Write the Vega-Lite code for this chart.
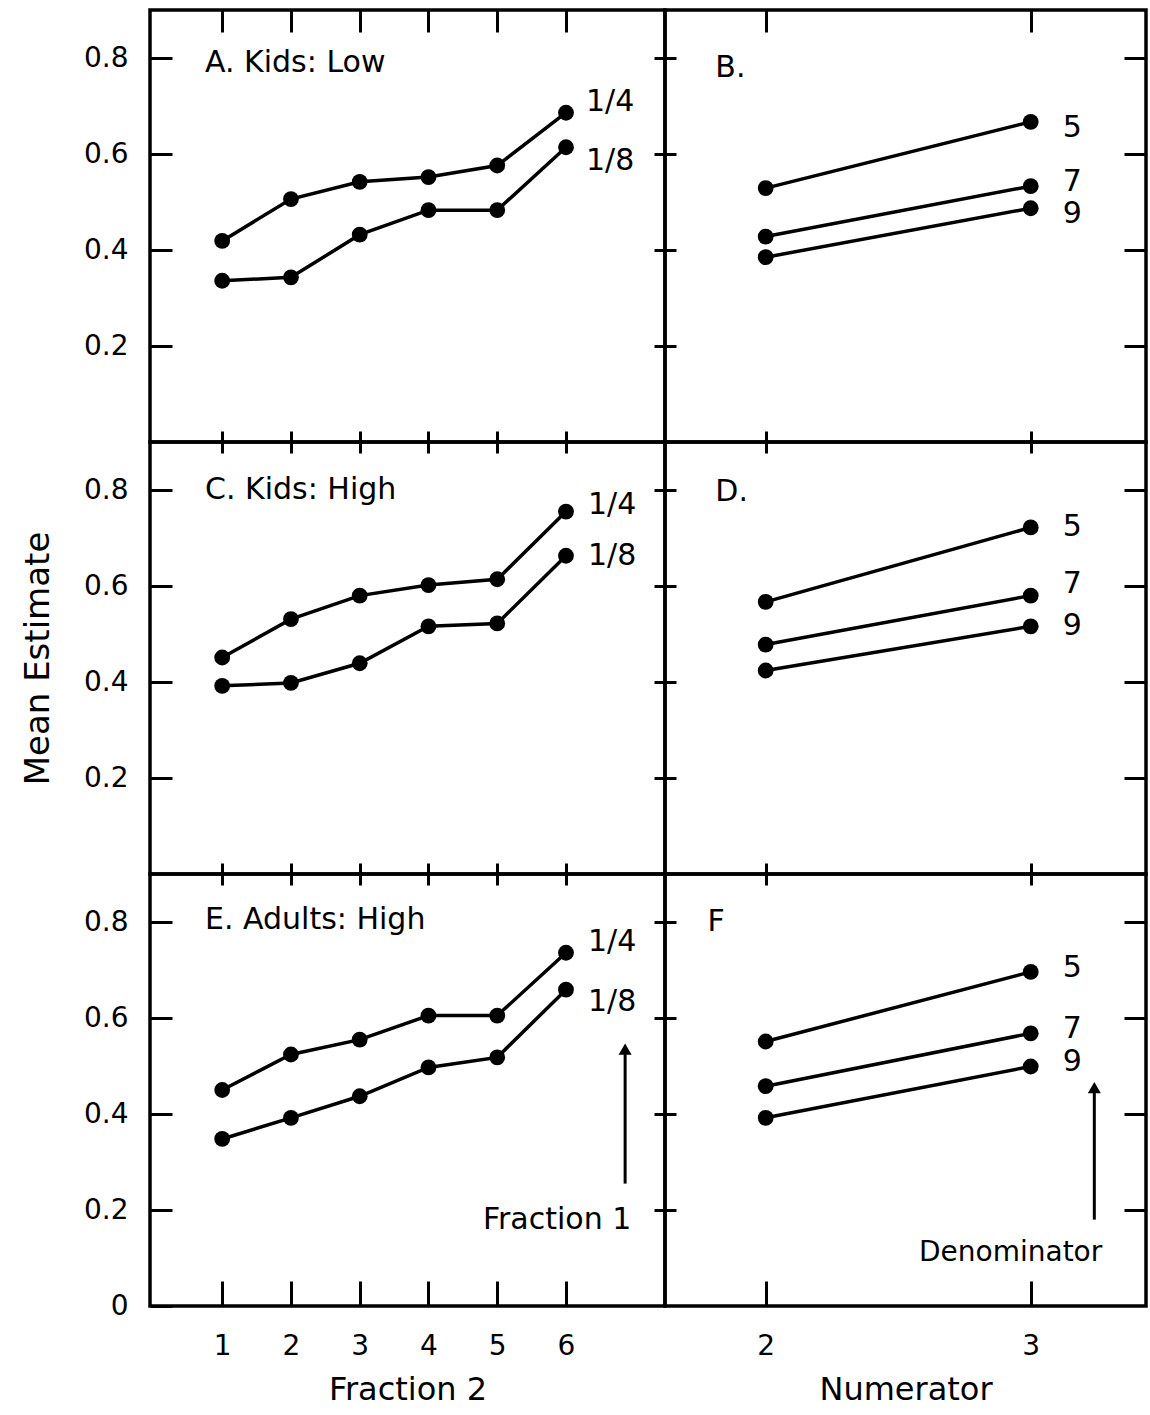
{
  "$schema": "https://vega.github.io/schema/vega-lite/v6.json",
  "autosize": {"type": "pad"},
  "padding": {"left": 19, "top": 6, "right": 2, "bottom": 4},
  "columns": 2,
  "spacing": 0,
  "bounds": "flush",
  "align": "each",
  "config": {
    "view": {"stroke": "black", "strokeWidth": 3.5},
    "font": "DejaVu Sans",
    "concat": {"spacing": 0},
    "axis": {"grid": false, "domain": false, "tickColor": "black", "tickWidth": 3, "labelColor": "black", "labelFont": "DejaVu Sans", "labelFontSize": 28, "titleFont": "DejaVu Sans", "titleFontSize": 32, "titleFontWeight": "normal", "titleColor": "black"},
    "text": {"font": "DejaVu Sans", "color": "black"}
  },
  "datasets": {
    "pts": [
      {"panel": "A", "series": "1/4", "x": 1, "y": 0.419},
      {"panel": "A", "series": "1/4", "x": 2, "y": 0.506},
      {"panel": "A", "series": "1/4", "x": 3, "y": 0.542},
      {"panel": "A", "series": "1/4", "x": 4, "y": 0.552},
      {"panel": "A", "series": "1/4", "x": 5, "y": 0.576},
      {"panel": "A", "series": "1/4", "x": 6, "y": 0.686},
      {"panel": "A", "series": "1/8", "x": 1, "y": 0.336},
      {"panel": "A", "series": "1/8", "x": 2, "y": 0.343},
      {"panel": "A", "series": "1/8", "x": 3, "y": 0.432},
      {"panel": "A", "series": "1/8", "x": 4, "y": 0.483},
      {"panel": "A", "series": "1/8", "x": 5, "y": 0.483},
      {"panel": "A", "series": "1/8", "x": 6, "y": 0.614},
      {"panel": "B", "series": "5", "x": 2, "y": 0.529},
      {"panel": "B", "series": "5", "x": 3, "y": 0.667},
      {"panel": "B", "series": "7", "x": 2, "y": 0.428},
      {"panel": "B", "series": "7", "x": 3, "y": 0.533},
      {"panel": "B", "series": "9", "x": 2, "y": 0.385},
      {"panel": "B", "series": "9", "x": 3, "y": 0.487},
      {"panel": "C", "series": "1/4", "x": 1, "y": 0.451},
      {"panel": "C", "series": "1/4", "x": 2, "y": 0.531},
      {"panel": "C", "series": "1/4", "x": 3, "y": 0.580},
      {"panel": "C", "series": "1/4", "x": 4, "y": 0.602},
      {"panel": "C", "series": "1/4", "x": 5, "y": 0.614},
      {"panel": "C", "series": "1/4", "x": 6, "y": 0.755},
      {"panel": "C", "series": "1/8", "x": 1, "y": 0.392},
      {"panel": "C", "series": "1/8", "x": 2, "y": 0.398},
      {"panel": "C", "series": "1/8", "x": 3, "y": 0.439},
      {"panel": "C", "series": "1/8", "x": 4, "y": 0.516},
      {"panel": "C", "series": "1/8", "x": 5, "y": 0.522},
      {"panel": "C", "series": "1/8", "x": 6, "y": 0.663},
      {"panel": "D", "series": "5", "x": 2, "y": 0.567},
      {"panel": "D", "series": "5", "x": 3, "y": 0.722},
      {"panel": "D", "series": "7", "x": 2, "y": 0.478},
      {"panel": "D", "series": "7", "x": 3, "y": 0.580},
      {"panel": "D", "series": "9", "x": 2, "y": 0.424},
      {"panel": "D", "series": "9", "x": 3, "y": 0.516},
      {"panel": "E", "series": "1/4", "x": 1, "y": 0.450},
      {"panel": "E", "series": "1/4", "x": 2, "y": 0.524},
      {"panel": "E", "series": "1/4", "x": 3, "y": 0.555},
      {"panel": "E", "series": "1/4", "x": 4, "y": 0.605},
      {"panel": "E", "series": "1/4", "x": 5, "y": 0.605},
      {"panel": "E", "series": "1/4", "x": 6, "y": 0.736},
      {"panel": "E", "series": "1/8", "x": 1, "y": 0.348},
      {"panel": "E", "series": "1/8", "x": 2, "y": 0.392},
      {"panel": "E", "series": "1/8", "x": 3, "y": 0.437},
      {"panel": "E", "series": "1/8", "x": 4, "y": 0.497},
      {"panel": "E", "series": "1/8", "x": 5, "y": 0.518},
      {"panel": "E", "series": "1/8", "x": 6, "y": 0.659},
      {"panel": "F", "series": "5", "x": 2, "y": 0.551},
      {"panel": "F", "series": "5", "x": 3, "y": 0.696},
      {"panel": "F", "series": "7", "x": 2, "y": 0.458},
      {"panel": "F", "series": "7", "x": 3, "y": 0.568},
      {"panel": "F", "series": "9", "x": 2, "y": 0.392},
      {"panel": "F", "series": "9", "x": 3, "y": 0.499}
    ]
  },
  "concat": [
        {
          "width": 515, "height": 432,
          "resolve": {"axis": {"x": "independent", "y": "independent"}},
          "layer": [
            {"data": {"name": "pts"}, "transform": [{"filter": "datum.panel == 'A'"}],
             "mark": {"type": "line", "color": "black", "strokeWidth": 3.5},
             "encoding": {
               "x": {"field": "x", "type": "quantitative", "scale": {"domain": [-0.05, 7.44], "nice": false, "zero": false}, "axis": {"orient": "top", "values": [1, 2, 3, 4, 5, 6], "offset": -22, "tickSize": 22, "labels": false, "title": null}},
               "y": {"field": "y", "type": "quantitative", "scale": {"domain": [0, 0.9], "nice": false, "zero": false}, "axis": {"orient": "left", "values": [0.2, 0.4, 0.6, 0.8], "offset": -22, "tickSize": 22, "labelPadding": 22, "format": ".1f", "title": null}},
               "detail": {"field": "series"}}},
            {"data": {"name": "pts"}, "transform": [{"filter": "datum.panel == 'A'"}],
             "mark": {"type": "point", "filled": true, "color": "black", "size": 250, "opacity": 1},
             "encoding": {
               "x": {"field": "x", "type": "quantitative", "axis": {"orient": "bottom", "values": [1, 2, 3, 4, 5, 6], "offset": -11, "tickSize": 11, "labels": false, "title": null}},
               "y": {"field": "y", "type": "quantitative", "axis": {"orient": "right", "values": [0.2, 0.4, 0.6, 0.8], "offset": -11, "tickSize": 11, "labels": false, "title": null}}}},
            {"data": {"name": "pts"}, "transform": [{"filter": "datum.panel == 'A' && datum.x == 6 && datum.series == '1/4'"}],
             "mark": {"type": "text", "align": "left", "baseline": "middle", "dx": 20, "dy": -11, "fontSize": 30},
             "encoding": {"x": {"field": "x", "type": "quantitative", "axis": null}, "y": {"field": "y", "type": "quantitative", "axis": null}, "text": {"field": "series"}}},
            {"data": {"name": "pts"}, "transform": [{"filter": "datum.panel == 'A' && datum.x == 6 && datum.series == '1/8'"}],
             "mark": {"type": "text", "align": "left", "baseline": "middle", "dx": 20, "dy": 14, "fontSize": 30},
             "encoding": {"x": {"field": "x", "type": "quantitative", "axis": null}, "y": {"field": "y", "type": "quantitative", "axis": null}, "text": {"field": "series"}}},
            {"data": {"values": [{"label": "A. Kids: Low"}]},
             "mark": {"type": "text", "align": "left", "baseline": "middle", "fontSize": 30},
             "encoding": {"x": {"datum": 0.75, "type": "quantitative", "axis": null}, "y": {"datum": 0.79, "type": "quantitative", "axis": null}, "text": {"field": "label"}}}
          ]
        },
        {
          "width": 481, "height": 432,
          "resolve": {"axis": {"x": "independent", "y": "independent"}},
          "layer": [
            {"data": {"name": "pts"}, "transform": [{"filter": "datum.panel == 'B'"}],
             "mark": {"type": "line", "color": "black", "strokeWidth": 3.5},
             "encoding": {
               "x": {"field": "x", "type": "quantitative", "scale": {"domain": [1.62, 3.435], "nice": false, "zero": false}, "axis": {"orient": "top", "values": [2, 3], "offset": -22, "tickSize": 22, "labels": false, "title": null}},
               "y": {"field": "y", "type": "quantitative", "scale": {"domain": [0, 0.9], "nice": false, "zero": false}, "axis": {"orient": "left", "values": [0.2, 0.4, 0.6, 0.8], "offset": -11, "tickSize": 11, "labels": false, "title": null}},
               "detail": {"field": "series"}}},
            {"data": {"name": "pts"}, "transform": [{"filter": "datum.panel == 'B'"}],
             "mark": {"type": "point", "filled": true, "color": "black", "size": 250, "opacity": 1},
             "encoding": {
               "x": {"field": "x", "type": "quantitative", "axis": {"orient": "bottom", "values": [2, 3], "offset": -11, "tickSize": 11, "labels": false, "title": null}},
               "y": {"field": "y", "type": "quantitative", "axis": {"orient": "right", "values": [0.2, 0.4, 0.6, 0.8], "offset": -22, "tickSize": 22, "labels": false, "title": null}}}},
            {"data": {"name": "pts"}, "transform": [{"filter": "datum.panel == 'B' && datum.x == 3 && datum.series != '7'"}],
             "mark": {"type": "text", "align": "left", "baseline": "middle", "dx": 32, "dy": 6, "fontSize": 30},
             "encoding": {"x": {"field": "x", "type": "quantitative", "axis": null}, "y": {"field": "y", "type": "quantitative", "axis": null}, "text": {"field": "series"}}},
            {"data": {"name": "pts"}, "transform": [{"filter": "datum.panel == 'B' && datum.x == 3 && datum.series == '7'"}],
             "mark": {"type": "text", "align": "left", "baseline": "middle", "dx": 32, "dy": -4, "fontSize": 30},
             "encoding": {"x": {"field": "x", "type": "quantitative", "axis": null}, "y": {"field": "y", "type": "quantitative", "axis": null}, "text": {"field": "series"}}},
            {"data": {"values": [{"label": "B."}]},
             "mark": {"type": "text", "align": "left", "baseline": "middle", "fontSize": 30},
             "encoding": {"x": {"datum": 1.81, "type": "quantitative", "axis": null}, "y": {"datum": 0.78, "type": "quantitative", "axis": null}, "text": {"field": "label"}}}
          ]
        },
        {
          "width": 515, "height": 432,
          "resolve": {"axis": {"x": "independent", "y": "independent"}},
          "layer": [
            {"data": {"name": "pts"}, "transform": [{"filter": "datum.panel == 'C'"}],
             "mark": {"type": "line", "color": "black", "strokeWidth": 3.5},
             "encoding": {
               "x": {"field": "x", "type": "quantitative", "scale": {"domain": [-0.05, 7.44], "nice": false, "zero": false}, "axis": {"orient": "top", "values": [1, 2, 3, 4, 5, 6], "offset": -11, "tickSize": 11, "labels": false, "title": null}},
               "y": {"field": "y", "type": "quantitative", "scale": {"domain": [0, 0.9], "nice": false, "zero": false}, "axis": {"orient": "left", "values": [0.2, 0.4, 0.6, 0.8], "offset": -22, "tickSize": 22, "labelPadding": 22, "format": ".1f", "title": "Mean  Estimate", "titlePadding": 28, "titleFontSize": 34}},
               "detail": {"field": "series"}}},
            {"data": {"name": "pts"}, "transform": [{"filter": "datum.panel == 'C'"}],
             "mark": {"type": "point", "filled": true, "color": "black", "size": 250, "opacity": 1},
             "encoding": {
               "x": {"field": "x", "type": "quantitative", "axis": {"orient": "bottom", "values": [1, 2, 3, 4, 5, 6], "offset": -11, "tickSize": 11, "labels": false, "title": null}},
               "y": {"field": "y", "type": "quantitative", "axis": {"orient": "right", "values": [0.2, 0.4, 0.6, 0.8], "offset": -11, "tickSize": 11, "labels": false, "title": null}}}},
            {"data": {"name": "pts"}, "transform": [{"filter": "datum.panel == 'C' && datum.x == 6 && datum.series == '1/4'"}],
             "mark": {"type": "text", "align": "left", "baseline": "middle", "dx": 22, "dy": -7, "fontSize": 30},
             "encoding": {"x": {"field": "x", "type": "quantitative", "axis": null}, "y": {"field": "y", "type": "quantitative", "axis": null}, "text": {"field": "series"}}},
            {"data": {"name": "pts"}, "transform": [{"filter": "datum.panel == 'C' && datum.x == 6 && datum.series == '1/8'"}],
             "mark": {"type": "text", "align": "left", "baseline": "middle", "dx": 22, "dy": 0, "fontSize": 30},
             "encoding": {"x": {"field": "x", "type": "quantitative", "axis": null}, "y": {"field": "y", "type": "quantitative", "axis": null}, "text": {"field": "series"}}},
            {"data": {"values": [{"label": "C. Kids: High"}]},
             "mark": {"type": "text", "align": "left", "baseline": "middle", "fontSize": 30},
             "encoding": {"x": {"datum": 0.75, "type": "quantitative", "axis": null}, "y": {"datum": 0.80, "type": "quantitative", "axis": null}, "text": {"field": "label"}}}
          ]
        },
        {
          "width": 481, "height": 432,
          "resolve": {"axis": {"x": "independent", "y": "independent"}},
          "layer": [
            {"data": {"name": "pts"}, "transform": [{"filter": "datum.panel == 'D'"}],
             "mark": {"type": "line", "color": "black", "strokeWidth": 3.5},
             "encoding": {
               "x": {"field": "x", "type": "quantitative", "scale": {"domain": [1.62, 3.435], "nice": false, "zero": false}, "axis": {"orient": "top", "values": [2, 3], "offset": -11, "tickSize": 11, "labels": false, "title": null}},
               "y": {"field": "y", "type": "quantitative", "scale": {"domain": [0, 0.9], "nice": false, "zero": false}, "axis": {"orient": "left", "values": [0.2, 0.4, 0.6, 0.8], "offset": -11, "tickSize": 11, "labels": false, "title": null}},
               "detail": {"field": "series"}}},
            {"data": {"name": "pts"}, "transform": [{"filter": "datum.panel == 'D'"}],
             "mark": {"type": "point", "filled": true, "color": "black", "size": 250, "opacity": 1},
             "encoding": {
               "x": {"field": "x", "type": "quantitative", "axis": {"orient": "bottom", "values": [2, 3], "offset": -11, "tickSize": 11, "labels": false, "title": null}},
               "y": {"field": "y", "type": "quantitative", "axis": {"orient": "right", "values": [0.2, 0.4, 0.6, 0.8], "offset": -22, "tickSize": 22, "labels": false, "title": null}}}},
            {"data": {"name": "pts"}, "transform": [{"filter": "datum.panel == 'D' && datum.x == 3 && datum.series != '7'"}],
             "mark": {"type": "text", "align": "left", "baseline": "middle", "dx": 32, "dy": 0, "fontSize": 30},
             "encoding": {"x": {"field": "x", "type": "quantitative", "axis": null}, "y": {"field": "y", "type": "quantitative", "axis": null}, "text": {"field": "series"}}},
            {"data": {"name": "pts"}, "transform": [{"filter": "datum.panel == 'D' && datum.x == 3 && datum.series == '7'"}],
             "mark": {"type": "text", "align": "left", "baseline": "middle", "dx": 32, "dy": -12, "fontSize": 30},
             "encoding": {"x": {"field": "x", "type": "quantitative", "axis": null}, "y": {"field": "y", "type": "quantitative", "axis": null}, "text": {"field": "series"}}},
            {"data": {"values": [{"label": "D."}]},
             "mark": {"type": "text", "align": "left", "baseline": "middle", "fontSize": 30},
             "encoding": {"x": {"datum": 1.81, "type": "quantitative", "axis": null}, "y": {"datum": 0.795, "type": "quantitative", "axis": null}, "text": {"field": "label"}}}
          ]
        },
        {
          "width": 515, "height": 432,
          "resolve": {"axis": {"x": "independent", "y": "independent"}},
          "layer": [
            {"data": {"name": "pts"}, "transform": [{"filter": "datum.panel == 'E'"}],
             "mark": {"type": "line", "color": "black", "strokeWidth": 3.5},
             "encoding": {
               "x": {"field": "x", "type": "quantitative", "scale": {"domain": [-0.05, 7.44], "nice": false, "zero": false}, "axis": {"orient": "top", "values": [1, 2, 3, 4, 5, 6], "offset": -11, "tickSize": 11, "labels": false, "title": null}},
               "y": {"field": "y", "type": "quantitative", "scale": {"domain": [0, 0.9], "nice": false, "zero": false}, "axis": {"orient": "left", "values": [0, 0.2, 0.4, 0.6, 0.8], "offset": -22, "tickSize": 22, "labelPadding": 22, "labelExpr": "datum.value == 0 ? '0' : format(datum.value, '.1f')", "title": null}},
               "detail": {"field": "series"}}},
            {"data": {"name": "pts"}, "transform": [{"filter": "datum.panel == 'E'"}],
             "mark": {"type": "point", "filled": true, "color": "black", "size": 250, "opacity": 1},
             "encoding": {
               "x": {"field": "x", "type": "quantitative", "axis": {"orient": "bottom", "values": [1, 2, 3, 4, 5, 6], "offset": -25, "tickSize": 25, "labelPadding": 26, "format": "d", "title": "Fraction  2", "titlePadding": 14}},
               "y": {"field": "y", "type": "quantitative", "axis": {"orient": "right", "values": [0.2, 0.4, 0.6, 0.8], "offset": -11, "tickSize": 11, "labels": false, "title": null}}}},
            {"data": {"name": "pts"}, "transform": [{"filter": "datum.panel == 'E' && datum.x == 6 && datum.series == '1/4'"}],
             "mark": {"type": "text", "align": "left", "baseline": "middle", "dx": 22, "dy": -11, "fontSize": 30},
             "encoding": {"x": {"field": "x", "type": "quantitative", "axis": null}, "y": {"field": "y", "type": "quantitative", "axis": null}, "text": {"field": "series"}}},
            {"data": {"name": "pts"}, "transform": [{"filter": "datum.panel == 'E' && datum.x == 6 && datum.series == '1/8'"}],
             "mark": {"type": "text", "align": "left", "baseline": "middle", "dx": 22, "dy": 12, "fontSize": 30},
             "encoding": {"x": {"field": "x", "type": "quantitative", "axis": null}, "y": {"field": "y", "type": "quantitative", "axis": null}, "text": {"field": "series"}}},
            {"data": {"values": [{"label": "E. Adults: High"}]},
             "mark": {"type": "text", "align": "left", "baseline": "middle", "fontSize": 30},
             "encoding": {"x": {"datum": 0.75, "type": "quantitative", "axis": null}, "y": {"datum": 0.805, "type": "quantitative", "axis": null}, "text": {"field": "label"}}},
            {"data": {"values": [{"label": "Fraction 1"}]},
             "mark": {"type": "rule", "color": "black", "strokeWidth": 3},
             "encoding": {"x": {"datum": 6.86, "type": "quantitative", "axis": null}, "y": {"datum": 0.255, "type": "quantitative", "axis": null}, "y2": {"datum": 0.53}}},
            {"data": {"values": [{"label": "Fraction 1"}]},
             "mark": {"type": "point", "shape": "triangle-up", "filled": true, "color": "black", "size": 170, "opacity": 1},
             "encoding": {"x": {"datum": 6.86, "type": "quantitative", "axis": null}, "y": {"datum": 0.535, "type": "quantitative", "axis": null}}},
            {"data": {"values": [{"label": "Fraction 1"}]},
             "mark": {"type": "text", "align": "right", "baseline": "middle", "fontSize": 30},
             "encoding": {"x": {"datum": 6.95, "type": "quantitative", "axis": null}, "y": {"datum": 0.18, "type": "quantitative", "axis": null}, "text": {"field": "label"}}}
          ]
        },
        {
          "width": 481, "height": 432,
          "resolve": {"axis": {"x": "independent", "y": "independent"}},
          "layer": [
            {"data": {"name": "pts"}, "transform": [{"filter": "datum.panel == 'F'"}],
             "mark": {"type": "line", "color": "black", "strokeWidth": 3.5},
             "encoding": {
               "x": {"field": "x", "type": "quantitative", "scale": {"domain": [1.62, 3.435], "nice": false, "zero": false}, "axis": {"orient": "top", "values": [2, 3], "offset": -11, "tickSize": 11, "labels": false, "title": null}},
               "y": {"field": "y", "type": "quantitative", "scale": {"domain": [0, 0.9], "nice": false, "zero": false}, "axis": {"orient": "left", "values": [0.2, 0.4, 0.6, 0.8], "offset": -11, "tickSize": 11, "labels": false, "title": null}},
               "detail": {"field": "series"}}},
            {"data": {"name": "pts"}, "transform": [{"filter": "datum.panel == 'F'"}],
             "mark": {"type": "point", "filled": true, "color": "black", "size": 250, "opacity": 1},
             "encoding": {
               "x": {"field": "x", "type": "quantitative", "axis": {"orient": "bottom", "values": [2, 3], "offset": -25, "tickSize": 25, "labelPadding": 26, "format": "d", "title": "Numerator", "titlePadding": 14}},
               "y": {"field": "y", "type": "quantitative", "axis": {"orient": "right", "values": [0.2, 0.4, 0.6, 0.8], "offset": -22, "tickSize": 22, "labels": false, "title": null}}}},
            {"data": {"name": "pts"}, "transform": [{"filter": "datum.panel == 'F' && datum.x == 3"}],
             "mark": {"type": "text", "align": "left", "baseline": "middle", "dx": 32, "dy": -4, "fontSize": 30},
             "encoding": {"x": {"field": "x", "type": "quantitative", "axis": null}, "y": {"field": "y", "type": "quantitative", "axis": null}, "text": {"field": "series"}}},
            {"data": {"values": [{"label": "F"}]},
             "mark": {"type": "text", "align": "left", "baseline": "middle", "fontSize": 30},
             "encoding": {"x": {"datum": 1.78, "type": "quantitative", "axis": null}, "y": {"datum": 0.80, "type": "quantitative", "axis": null}, "text": {"field": "label"}}},
            {"data": {"values": [{"label": "Denominator"}]},
             "mark": {"type": "rule", "color": "black", "strokeWidth": 3},
             "encoding": {"x": {"datum": 3.24, "type": "quantitative", "axis": null}, "y": {"datum": 0.18, "type": "quantitative", "axis": null}, "y2": {"datum": 0.45}}},
            {"data": {"values": [{"label": "Denominator"}]},
             "mark": {"type": "point", "shape": "triangle-up", "filled": true, "color": "black", "size": 170, "opacity": 1},
             "encoding": {"x": {"datum": 3.24, "type": "quantitative", "axis": null}, "y": {"datum": 0.455, "type": "quantitative", "axis": null}}},
            {"data": {"values": [{"label": "Denominator"}]},
             "mark": {"type": "text", "align": "right", "baseline": "middle", "fontSize": 28},
             "encoding": {"x": {"datum": 3.27, "type": "quantitative", "axis": null}, "y": {"datum": 0.11, "type": "quantitative", "axis": null}, "text": {"field": "label"}}}
          ]
        }
  ]
}
